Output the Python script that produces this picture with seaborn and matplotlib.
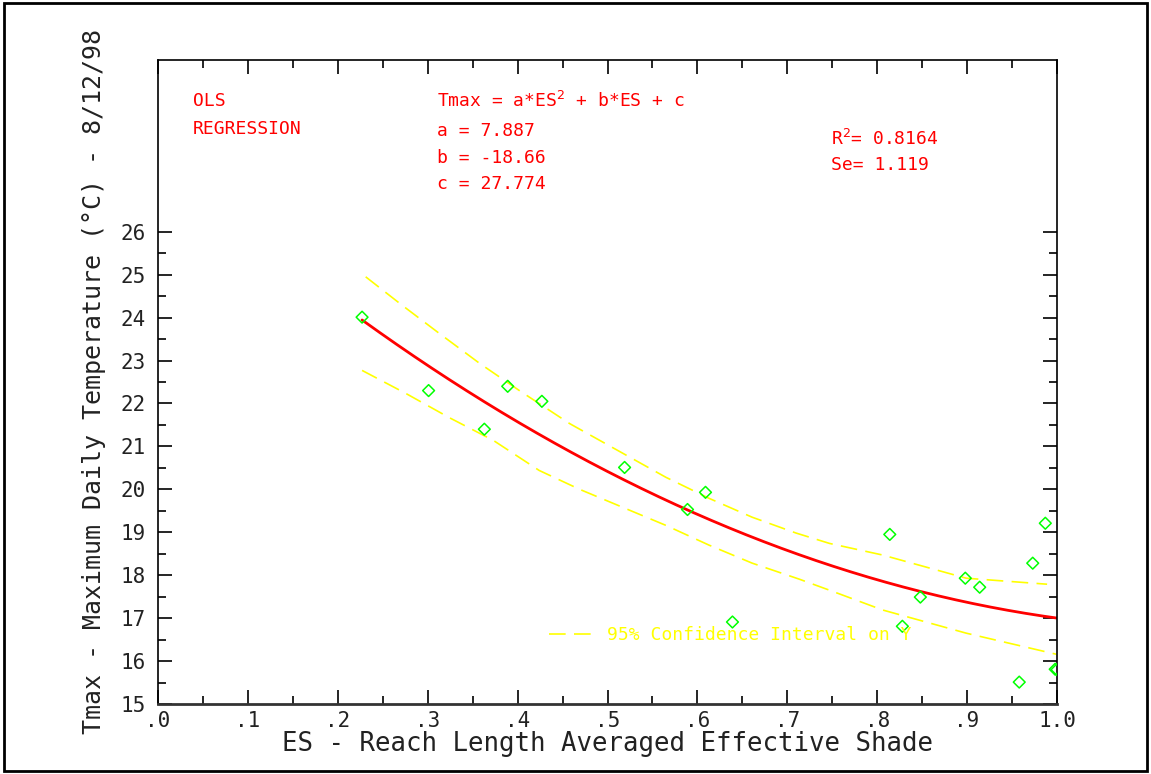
import numpy as np
import pandas as pd
import seaborn as sns
import matplotlib.pyplot as plt
from matplotlib.patches import Rectangle
from matplotlib.ticker import MultipleLocator, FixedLocator, FuncFormatter

# observed points (ES, Tmax)
es_obs = [0.227, 0.301, 0.363, 0.389, 0.427, 0.519, 0.589, 0.609, 0.639,
          0.814, 0.828, 0.848, 0.898, 0.914, 0.958, 0.973, 0.987, 0.998, 1.0]
tmax_obs = [24.01, 22.30, 21.40, 22.40, 22.05, 20.51, 19.53, 19.93, 16.91,
            18.95, 16.81, 17.49, 17.93, 17.72, 15.51, 18.28, 19.21, 15.81, 15.80]

# fitted model Tmax = a*ES^2 + b*ES + c
coef_a, coef_b, coef_c = 7.887, -18.66, 27.774
r2, se = 0.8164, 1.119
es_fit_range = [0.227, 1.0]

# 95% confidence band
es_upper = [0.231, 0.272, 0.313, 0.358, 0.402, 0.458, 0.517, 0.565, 0.613,
            0.661, 0.710, 0.747, 0.806, 0.899, 0.989]
t_upper = [24.95, 24.28, 23.63, 22.93, 22.30, 21.53, 20.84, 20.28, 19.79,
           19.35, 18.98, 18.74, 18.47, 17.93, 17.79]
es_lower = [0.227, 0.276, 0.324, 0.373, 0.424, 0.469, 0.517, 0.565, 0.613,
            0.661, 0.713, 0.747, 0.806, 0.899, 0.999]
t_lower = [22.77, 22.23, 21.67, 21.14, 20.44, 20.00, 19.58, 19.16, 18.70,
           18.28, 17.91, 17.65, 17.19, 16.65, 16.16]

sns.set_style("white")
plt.rcParams['font.family'] = ['DejaVu Sans Mono', 'DejaVu Sans']

fig = plt.figure(figsize=(11.51, 7.74), dpi=100)
ax = fig.add_axes([158 / 1151, 70 / 774, 899 / 1151, 644 / 774])

# outer frame
fig.patches.append(Rectangle((4 / 1151, 3 / 774), 1143 / 1151, 768 / 774,
                             transform=fig.transFigure, fill=False,
                             edgecolor='black', linewidth=2))

es_fit = np.linspace(es_fit_range[0], es_fit_range[1], 200)
fit_df = pd.DataFrame({'ES': es_fit,
                       'Tmax': coef_a * es_fit ** 2 + coef_b * es_fit + coef_c})
sns.lineplot(data=fit_df, x='ES', y='Tmax', color='#ff0000', linewidth=2, ax=ax)

sns.lineplot(x=es_upper, y=t_upper, color='#ffff00', linewidth=1.2,
             ax=ax, label='95% Confidence Interval on Y')
sns.lineplot(x=es_lower, y=t_lower, color='#ffff00', linewidth=1.2, ax=ax)
for ln in ax.lines[1:]:
    ln.set_linestyle((0, (10, 5)))

sns.scatterplot(x=es_obs, y=tmax_obs, marker='D', s=36, facecolor='none',
                edgecolor='#00ff00', linewidth=1.1, ax=ax, zorder=5)

ax.set_xlim(0, 1.0)
ax.set_ylim(15, 30)

ax.xaxis.set_major_locator(MultipleLocator(0.1))
ax.xaxis.set_minor_locator(MultipleLocator(0.05))
ax.xaxis.set_major_formatter(FuncFormatter(
    lambda v, p: '1.0' if v > 0.95 else '.%d' % round(v * 10)))
ax.yaxis.set_major_locator(FixedLocator(range(15, 27)))
ax.yaxis.set_minor_locator(FixedLocator(np.arange(15.5, 26, 1.0)))

ax.tick_params(which='both', direction='in', top=True, right=True,
               left=True, bottom=True,
               colors='black', labelcolor='#222222', labelsize=15)
ax.tick_params(which='major', length=10, width=1.2)
ax.tick_params(which='minor', length=6, width=1.2)
ax.tick_params(axis='x', pad=5)
ax.tick_params(axis='y', pad=9)
for side in ['left', 'right', 'top']:
    ax.spines[side].set_linewidth(1.2)
    ax.spines[side].set_color('black')
ax.spines['bottom'].set_linewidth(2)
ax.spines['bottom'].set_color('#333333')

ax.set_xlabel('ES - Reach Length Averaged Effective Shade', fontsize=18.5,
              color='#222222', labelpad=0)
ax.set_ylabel('Tmax - Maximum Daily Temperature (°C) - 8/12/98', fontsize=18,
              color='#222222', labelpad=4)
ax.yaxis.set_label_coords(-0.058, 0.5)

red = '#ff0000'
tkw = dict(transform=ax.transAxes, color=red, fontsize=13, va='center', ha='left')
def ax_xy(px, py):
    return ((px - 158) / 899, (704 - py) / 644)

ax.text(*ax_xy(193, 101), 'OLS', **tkw)
ax.text(*ax_xy(193, 129), 'REGRESSION', **tkw)
ax.text(*ax_xy(437, 101), 'Tmax = a*ES$^2$ + b*ES + c', **tkw)
ax.text(*ax_xy(437, 131), 'a = %.3f' % coef_a, **tkw)
ax.text(*ax_xy(437, 158), 'b = %.2f' % coef_b, **tkw)
ax.text(*ax_xy(437, 184), 'c = %.3f' % coef_c, **tkw)
ax.text(*ax_xy(831, 139), 'R$^2$= %.4f' % r2, **tkw)
ax.text(*ax_xy(831, 165), 'Se= %.3f' % se, **tkw)

leg = ax.legend(loc='center left', bbox_to_anchor=ax_xy(549, 635), frameon=False,
                handlelength=2.6, handletextpad=0.6, borderpad=0, borderaxespad=0,
                fontsize=13)
for t in leg.get_texts():
    t.set_color('#ffff00')

fig.savefig('out.png', dpi=100)
